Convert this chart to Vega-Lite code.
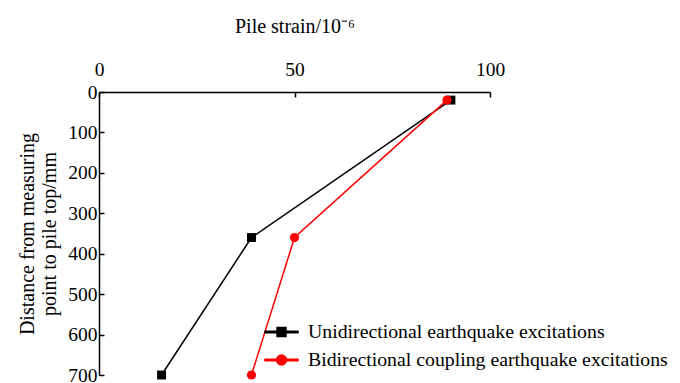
{
  "$schema": "https://vega.github.io/schema/vega-lite/v6.json",
  "width": 391,
  "height": 283,
  "autosize": {"type": "none"},
  "padding": {"left": 99, "top": 92, "right": 190, "bottom": 8},
  "background": "white",
  "config": {
    "view": {"stroke": null},
    "font": "Liberation Serif",
    "axis": {
      "labelFont": "Liberation Serif",
      "titleFont": "Liberation Serif",
      "labelColor": "black",
      "titleColor": "black",
      "domainColor": "black",
      "tickColor": "black",
      "grid": false,
      "titleFontWeight": "normal"
    }
  },
  "data": {
    "values": [
      {"series": "Unidirectional earthquake excitations", "strain": 90, "distance": 20},
      {"series": "Unidirectional earthquake excitations", "strain": 39, "distance": 360},
      {"series": "Unidirectional earthquake excitations", "strain": 16, "distance": 700},
      {"series": "Bidirectional coupling earthquake excitations", "strain": 89, "distance": 20},
      {"series": "Bidirectional coupling earthquake excitations", "strain": 50, "distance": 360},
      {"series": "Bidirectional coupling earthquake excitations", "strain": 39, "distance": 700}
    ]
  },
  "encoding": {
    "x": {
      "field": "strain",
      "type": "quantitative",
      "scale": {"domain": [0, 100], "nice": false},
      "axis": {
        "orient": "top",
        "title": "Pile strain/10⁻⁶",
        "values": [0, 50, 100],
        "labelFontSize": 19.5,
        "titleFontSize": 20,
        "tickSize": -5,
        "tickWidth": 1.5,
        "domainWidth": 1.5,
        "labelPadding": 18,
        "titlePadding": 23,
        "labelFlush": false
      }
    },
    "y": {
      "field": "distance",
      "type": "quantitative",
      "scale": {"domain": [0, 700], "reverse": true, "nice": false},
      "axis": {
        "orient": "left",
        "title": ["Distance from measuring", "point to pile top/mm"],
        "values": [0, 100, 200, 300, 400, 500, 600, 700],
        "labelFontSize": 19.5,
        "titleFontSize": 20,
        "titleLineHeight": 22,
        "tickSize": -5,
        "tickWidth": 1.5,
        "domainWidth": 1.5,
        "labelPadding": 7,
        "titlePadding": 8,
        "labelFlush": false
      }
    }
  },
  "layer": [
    {
      "mark": {"type": "point", "filled": true, "opacity": 1, "size": 1},
      "encoding": {
        "color": {
          "field": "series",
          "type": "nominal",
          "scale": {
            "domain": ["Unidirectional earthquake excitations", "Bidirectional coupling earthquake excitations"],
            "range": ["#000000", "#ff0000"]
          },
          "legend": {
            "title": null,
            "orient": "none",
            "legendX": 165,
            "legendY": 222.5,
            "labelFont": "Liberation Serif",
            "labelFontSize": 19.8,
            "labelColor": "black",
            "labelLimit": 500,
            "symbolSize": 1089,
            "symbolOpacity": 1,
            "labelOffset": 9,
            "rowPadding": -7.5
          }
        },
        "shape": {
          "field": "series",
          "type": "nominal",
          "scale": {
            "domain": ["Unidirectional earthquake excitations", "Bidirectional coupling earthquake excitations"],
            "range": [
              "M-1,-0.05H1V0.05H-1ZM-0.27,-0.27H0.27V0.27H-0.27Z",
              "M-1,-0.05H1V0.05H-1ZM-0.3,0A0.3,0.3 0 1,0 0.3,0A0.3,0.3 0 1,0 -0.3,0Z"
            ]
          },
          "legend": null
        }
      }
    },
    {
      "mark": {"type": "line", "strokeWidth": 1.5},
      "encoding": {
        "color": {"field": "series", "type": "nominal", "legend": null},
        "order": {"field": "distance", "type": "quantitative"}
      }
    },
    {
      "transform": [{"filter": "datum.series === 'Unidirectional earthquake excitations'"}],
      "mark": {"type": "point", "shape": "square", "filled": true, "opacity": 1, "size": 80, "color": "#000000"}
    },
    {
      "transform": [{"filter": "datum.series === 'Bidirectional coupling earthquake excitations'"}],
      "mark": {"type": "point", "shape": "circle", "filled": true, "opacity": 1, "size": 85, "color": "#ff0000"}
    }
  ]
}
